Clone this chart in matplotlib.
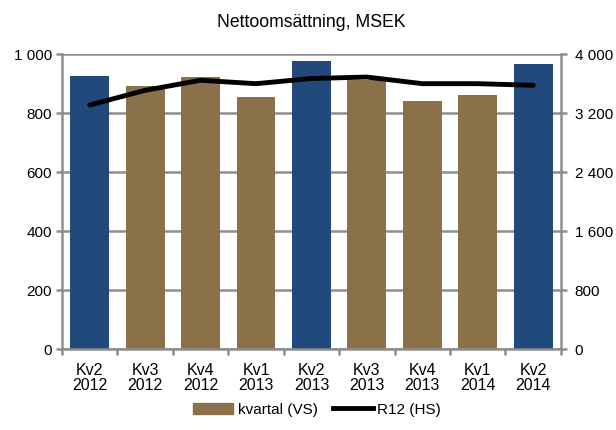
import matplotlib.pyplot as plt
import numpy as np
from matplotlib.patches import Patch
from matplotlib.lines import Line2D

plt.rcParams['font.family'] = ['Liberation Sans', 'DejaVu Sans']

# Data
kvartal = ['Kv2\n2012', 'Kv3\n2012', 'Kv4\n2012', 'Kv1\n2013', 'Kv2\n2013',
           'Kv3\n2013', 'Kv4\n2013', 'Kv1\n2014', 'Kv2\n2014']
omsattning = [925, 891, 921, 856, 976, 912, 840, 861, 966]
r12 = [3310, 3510, 3646, 3600, 3670, 3690, 3600, 3600, 3578]
markerad = [True, False, False, False, True, False, False, False, True]
vs_ticks = [0, 200, 400, 600, 800, 1000]
hs_ticks = [0, 800, 1600, 2400, 3200, 4000]

blue = '#21497B'
brown = '#8B714A'
grid_gray = '#8E8E8E'


def fmt(v):
    return f"{int(v):,}".replace(',', ' ')


fig = plt.figure(figsize=(6.16, 4.3), dpi=100)
ax = fig.add_axes([0.1006, 0.188, 0.810, 0.686])
ax2 = ax.twinx()

x = np.arange(len(kvartal))
colors = [blue if m else brown for m in markerad]
ax.bar(x, omsattning, width=0.7, color=colors, zorder=2)
ax.set_xlim(-0.5, len(kvartal) - 0.5)
ax.set_ylim(0, 1000)
ax.set_yticks(vs_ticks)
ax.set_yticklabels([fmt(v) for v in vs_ticks], fontsize=11)
ax.set_xticks(x)
ax.set_xticklabels(kvartal, fontsize=11.5, linespacing=1.0)
ax.set_xticks(np.arange(-0.5, len(kvartal)), minor=True)
ax.tick_params(axis='x', which='major', length=0, pad=10)
ax.tick_params(axis='x', which='minor', length=4, color=grid_gray, width=1.8)
ax.tick_params(axis='y', length=4, color=grid_gray, width=1.8, pad=3)
ax.grid(axis='y', color=grid_gray, linewidth=1.8, zorder=0)
ax.set_axisbelow(True)

ax2.plot(x, r12, color='black', linewidth=3.5, solid_capstyle='round',
         solid_joinstyle='round', zorder=3)
ax2.set_ylim(0, 4000)
ax2.set_yticks(hs_ticks)
ax2.set_yticklabels([fmt(v) for v in hs_ticks], fontsize=11)
ax2.tick_params(axis='y', length=4, color=grid_gray, width=1.8, pad=6)

for a in (ax, ax2):
    for s in a.spines.values():
        s.set_visible(False)
for a, side in ((ax, 'left'), (ax, 'bottom'), (ax2, 'right')):
    a.spines[side].set_visible(True)
    a.spines[side].set_color(grid_gray)
    a.spines[side].set_linewidth(1.8)

fig.text(0.505, 0.937, 'Nettoomsättning, MSEK', ha='center', va='baseline',
         fontsize=12.7)

handles = [Patch(color=brown, label='kvartal (VS)'),
           Line2D([0], [0], color='black', linewidth=3.5, label='R12 (HS)')]
fig.legend(handles=handles, loc='center', bbox_to_anchor=(0.515, 0.047), ncol=2,
           frameon=False, fontsize=11, handlelength=2.6, columnspacing=1.0,
           handletextpad=0.3)

fig.savefig('out.png', dpi=100)
